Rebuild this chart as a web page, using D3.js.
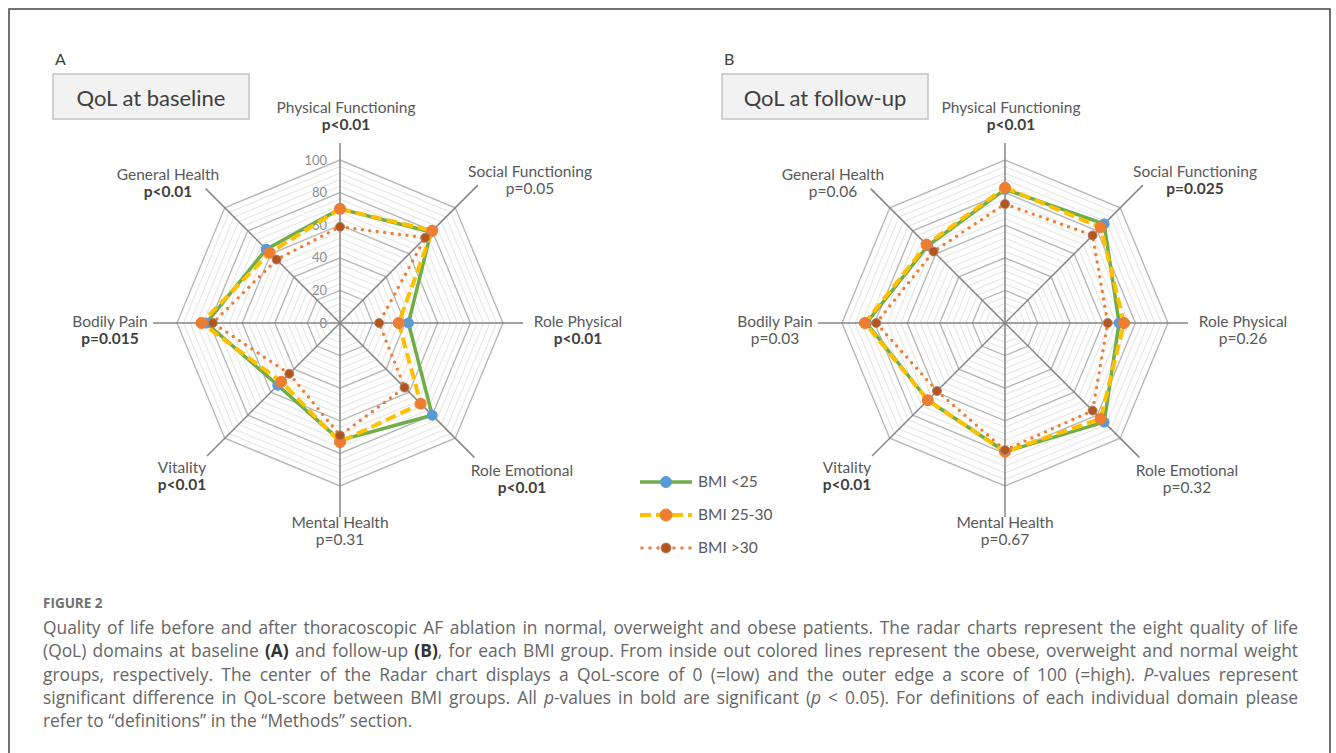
<!DOCTYPE html>
<html>
<head>
<meta charset="utf-8">
<script src="https://cdn.jsdelivr.net/npm/d3@7"></script>
<style>
  body { margin: 0; background: #fff; }
  svg text { font-family: Lato, "Open Sans", sans-serif; }
</style>
</head>
<body>
<div id="fig"></div>
<script>
// QoL domains, clockwise from the top
const domains = ["Physical Functioning", "Social Functioning", "Role Physical", "Role Emotional",
                 "Mental Health", "Vitality", "Bodily Pain", "General Health"];
const seriesNames = ["BMI <25", "BMI 25-30", "BMI >30"];

// scores (0-100)
const baselineUnder25 = [70, 79, 42, 80, 72, 54, 82, 64];
const baseline25to30  = [70, 80, 36, 70, 73, 51, 85, 61];
const baselineOver30  = [59, 74, 24, 56, 69, 44, 78, 55];
const followupUnder25 = [82, 86, 70, 86, 79, 67, 85, 67];
const followup25to30  = [83, 83, 73, 83, 79, 67, 86, 68];
const followupOver30  = [73, 76, 63, 76, 78, 59, 79, 62];

const baselineP   = ["p<0.01", "p=0.05", "p<0.01", "p<0.01", "p=0.31", "p<0.01", "p=0.015", "p<0.01"];
const baselineSig = [true, false, true, true, false, true, true, true];
const followupP   = ["p<0.01", "p=0.025", "p=0.26", "p=0.32", "p=0.67", "p<0.01", "p=0.03", "p=0.06"];
const followupSig = [true, true, false, false, false, true, false, false];

const tickValues = [0, 20, 40, 60, 80, 100];
const minorStep = 4;

const width = 1336;
const height = 753;
const R = 163;

const svg = d3.select("#fig")
    .append("svg")
    .attr("width", width)
    .attr("height", height);

// frame around the figure (open at the bottom)
svg.append("path")
    .attr("d", "M9,760 L9,9 L1330,9 L1330,760")
    .attr("fill", "none")
    .attr("stroke", "#444")
    .attr("stroke-width", 1.5);

const rScale = d3.scaleLinear().domain([0, 100]).range([0, R]);
const angle = d3.scaleLinear().domain([0, domains.length]).range([0, 2 * Math.PI]);

const styles = [
    { line: "#70AD47", width: 3.5, dash: null, cap: "butt", dot: "#5B9BD5", dotStroke: "#5B9BD5", r: 5 },
    { line: "#FFC000", width: 4, dash: "11,5", cap: "butt", dot: "#ED7D31", dotStroke: "#ED7D31", r: 5.5 },
    { line: "#ED7D31", width: 3.4, dash: "0,7.5", cap: "round", dot: "#B5541C", dotStroke: "#A98670", r: 4.5 }
];

// label anchors relative to the radar centre (first line), spoke lengths
const labelPos = [[6, -215], [190, -151], [238, -1], [182, 148], [0, 200], [-158, 145], [-230, -1], [-172, -148]];
const spokeLen = [180, 195, 183, 190, 194, 188, 187, 190];

function drawRadar(cx, cy, series, pvals, sig, showTicks) {
    const g = svg.append("g").attr("transform", `translate(${cx},${cy})`);

    const ring = d3.lineRadial()
        .angle((d, i) => angle(i))
        .radius(d => rScale(d))
        .curve(d3.curveLinearClosed);

    const minor = d3.range(0, 101, minorStep).filter(v => v % 20 !== 0);
    g.selectAll(".minor")
        .data(minor)
        .enter().append("path")
        .attr("d", v => ring(domains.map(() => v)))
        .attr("fill", "none")
        .attr("stroke", "#e3e3e3")
        .attr("stroke-width", 1);

    g.selectAll(".major")
        .data(tickValues.filter(v => v > 0))
        .enter().append("path")
        .attr("d", v => ring(domains.map(() => v)))
        .attr("fill", "none")
        .attr("stroke", "#b8b8b8")
        .attr("stroke-width", 1.4);

    g.selectAll(".spoke")
        .data(domains)
        .enter().append("line")
        .attr("x1", 0).attr("y1", 0)
        .attr("x2", (d, i) => Math.sin(angle(i)) * spokeLen[i])
        .attr("y2", (d, i) => -Math.cos(angle(i)) * spokeLen[i])
        .attr("stroke", "#858585")
        .attr("stroke-width", 1.5);

    if (showTicks) {
        g.selectAll(".tick")
            .data(tickValues)
            .enter().append("text")
            .attr("x", -13)
            .attr("y", v => -rScale(v))
            .attr("dy", "0.35em")
            .attr("text-anchor", "end")
            .attr("font-size", 13)
            .attr("fill", "#8f8f8f")
            .text(v => v);
    }

    series.forEach((vals, s) => {
        const st = styles[s];
        g.append("path")
            .attr("d", ring(vals))
            .attr("fill", "none")
            .attr("stroke", st.line)
            .attr("stroke-width", st.width)
            .attr("stroke-dasharray", st.dash)
            .attr("stroke-linecap", st.cap)
            .attr("stroke-linejoin", "round");
        g.selectAll(".dot" + s)
            .data(vals)
            .enter().append("circle")
            .attr("cx", (d, i) => Math.sin(angle(i)) * rScale(d))
            .attr("cy", (d, i) => -Math.cos(angle(i)) * rScale(d))
            .attr("r", st.r)
            .attr("fill", st.dot)
            .attr("stroke", st.dotStroke)
            .attr("stroke-width", 1);
    });

    const labels = g.selectAll(".lab")
        .data(domains)
        .enter().append("text")
        .attr("text-anchor", "middle")
        .attr("font-size", 15.5)
        .attr("fill", "#595959");
    labels.append("tspan")
        .attr("x", (d, i) => labelPos[i][0])
        .attr("y", (d, i) => labelPos[i][1])
        .attr("dy", "0.35em")
        .text(d => d);
    labels.append("tspan")
        .attr("x", (d, i) => labelPos[i][0])
        .attr("y", (d, i) => labelPos[i][1] + 17)
        .attr("dy", "0.35em")
        .attr("font-weight", (d, i) => sig[i] ? "bold" : "normal")
        .attr("fill", (d, i) => sig[i] ? "#404040" : "#595959")
        .text((d, i) => pvals[i]);
}

function titleBox(x, w, letter, title) {
    svg.append("text")
        .attr("x", x + 2).attr("y", 59).attr("dy", "0.35em")
        .attr("font-size", 16).attr("fill", "#404040")
        .text(letter);
    svg.append("rect")
        .attr("x", x).attr("y", 74)
        .attr("width", w).attr("height", 45)
        .attr("fill", "#f2f2f2")
        .attr("stroke", "#c4c4c4")
        .attr("stroke-width", 1.5);
    svg.append("text")
        .attr("x", x + w / 2).attr("y", 98).attr("dy", "0.35em")
        .attr("text-anchor", "middle")
        .attr("font-size", 22).attr("fill", "#404040")
        .text(title);
}

titleBox(53, 196, "A", "QoL at baseline");
titleBox(722, 206, "B", "QoL at follow-up");

drawRadar(340, 323, [baselineUnder25, baseline25to30, baselineOver30], baselineP, baselineSig, true);
drawRadar(1005, 323, [followupUnder25, followup25to30, followupOver30], followupP, followupSig, false);

// legend
const legend = svg.append("g").attr("transform", "translate(640,482)");
const legendRow = d3.scaleBand().domain(seriesNames).range([0, 99]);
seriesNames.forEach((name, s) => {
    const st = styles[s];
    const y = legendRow(name);
    legend.append("line")
        .attr("x1", s === 2 ? 2 : 0).attr("x2", 52)
        .attr("y1", y).attr("y2", y)
        .attr("stroke", st.line)
        .attr("stroke-width", st.width)
        .attr("stroke-dasharray", s === 2 ? "0,8" : st.dash)
        .attr("stroke-linecap", st.cap);
    legend.append("circle")
        .attr("cx", 26).attr("cy", y)
        .attr("r", st.r + 0.5)
        .attr("fill", st.dot)
        .attr("stroke", st.dotStroke);
    legend.append("text")
        .attr("x", 58).attr("y", y).attr("dy", "0.35em")
        .attr("font-size", 15.5).attr("fill", "#595959")
        .text(name);
});

// caption
const caption = svg.append("g");
caption.append("text")
    .attr("x", 43).attr("y", 603).attr("dy", "0.35em")
    .style("font-family", "'Open Sans', sans-serif")
    .attr("font-size", 13.5).attr("font-weight", "bold").attr("fill", "#707070")
    .text("FIGURE 2");

const captionLines = [
    [["Quality of life before and after thoracoscopic AF ablation in normal, overweight and obese patients. The radar charts represent the eight quality of life", ""]],
    [["(QoL) domains at baseline ", ""], ["(A)", "b"], [" and follow-up ", ""], ["(B)", "b"], [", for each BMI group. From inside out colored lines represent the obese, overweight and normal weight", ""]],
    [["groups, respectively. The center of the Radar chart displays a QoL-score of 0 (=low) and the outer edge a score of 100 (=high). ", ""], ["P", "i"], ["-values represent", ""]],
    [["significant difference in QoL-score between BMI groups. All ", ""], ["p", "i"], ["-values in bold are significant (", ""], ["p", "i"], [" < 0.05). For definitions of each individual domain please", ""]],
    [["refer to \u201cdefinitions\u201d in the \u201cMethods\u201d section.", ""]]
];
const lineY = d3.scaleLinear().domain([0, 4]).range([628, 721]);
captionLines.forEach((parts, li) => {
    const t = caption.append("text")
        .attr("x", 43).attr("y", lineY(li)).attr("dy", "0.35em")
        .style("font-family", "'Open Sans', sans-serif")
        .attr("font-size", 17.4).attr("fill", "#666");
    parts.forEach(p => {
        t.append("tspan")
            .attr("font-weight", p[1] === "b" ? "bold" : null)
            .attr("font-style", p[1] === "i" ? "italic" : null)
            .attr("fill", p[1] === "b" ? "#333" : null)
            .text(p[0]);
    });
    if (li < captionLines.length - 1) {
        const len = t.node().getComputedTextLength();
        const spaces = parts.map(p => p[0]).join("").split(" ").length - 1;
        t.attr("word-spacing", (1255 - len) / spaces);
    }
});
</script>
</body>
</html>
